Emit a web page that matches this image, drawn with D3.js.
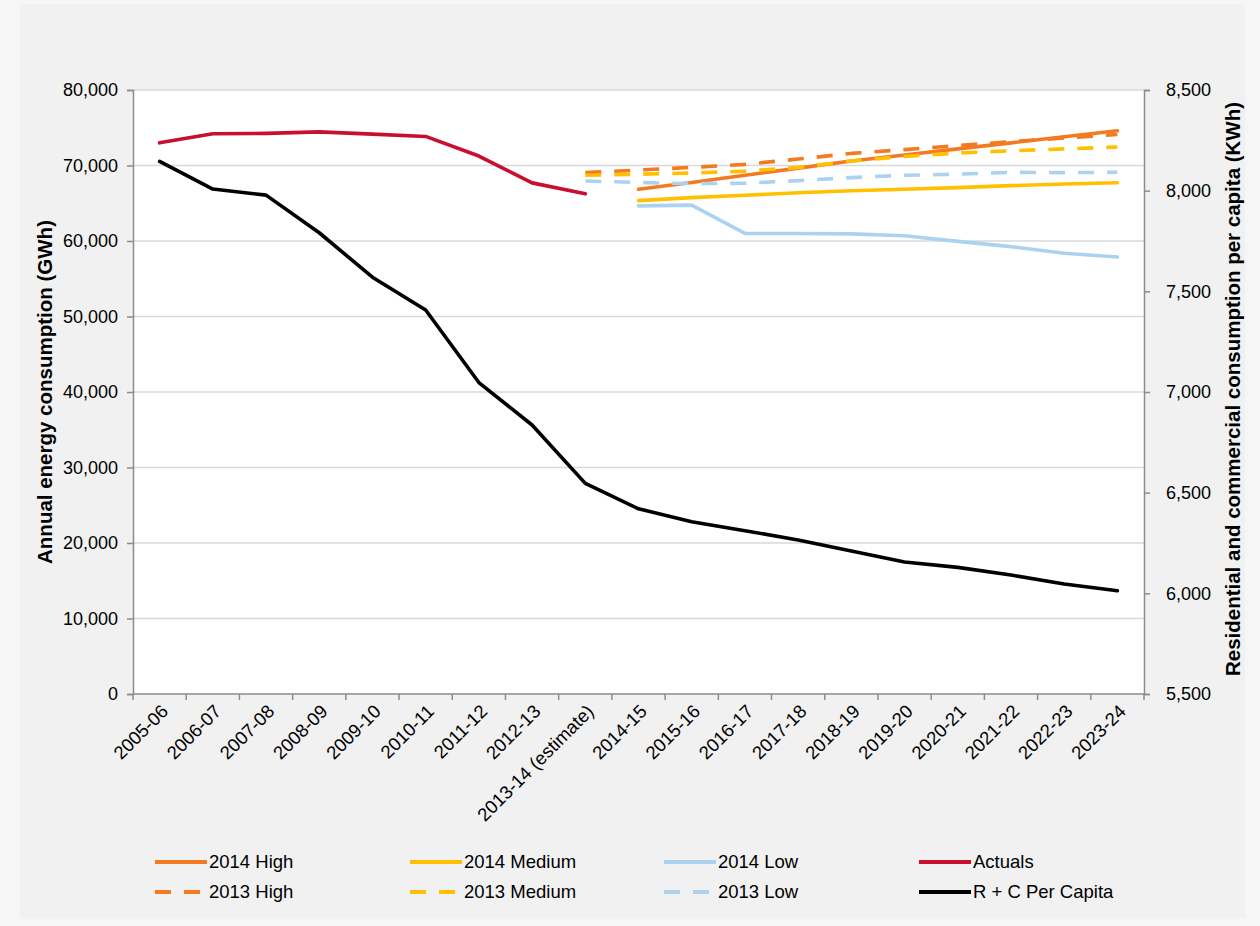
<!DOCTYPE html>
<html>
<head>
<meta charset="utf-8">
<script src="https://cdn.jsdelivr.net/npm/d3@7"></script>
<style>
  html, body { margin: 0; padding: 0; background: #f7f6f6; }
  svg { display: block; font-family: "Liberation Sans", Arial, sans-serif; }
</style>
</head>
<body>
<svg id="chart" width="1260" height="926"></svg>
<script>
// Financial years on the category axis
const categories = [
  "2005-06", "2006-07", "2007-08", "2008-09", "2009-10", "2010-11", "2011-12",
  "2012-13", "2013-14 (estimate)", "2014-15", "2015-16", "2016-17", "2017-18",
  "2018-19", "2019-20", "2020-21", "2021-22", "2022-23", "2023-24"
];

// Annual energy consumption, GWh (left axis)
const actuals = [73000, 74200, 74250, 74450, 74150, 73850, 71250, 67700, 66250];        // 2005-06 .. 2013-14
const high2014 = [66850, 67750, 68700, 69650, 70600, 71400, 72200, 73000, 73800, 74600]; // 2014-15 .. 2023-24
const medium2014 = [65350, 65750, 66050, 66400, 66650, 66850, 67070, 67330, 67550, 67720];
const low2014 = [64650, 64750, 61000, 61000, 60950, 60700, 59950, 59250, 58380, 57880];
const high2013 = [69050, 69400, 69750, 70150, 70850, 71600, 72100, 72650, 73150, 73650, 74100]; // 2013-14 .. 2023-24
const medium2013 = [68700, 68850, 69000, 69250, 69750, 70600, 71200, 71650, 71950, 72200, 72450];
const low2013 = [67950, 67750, 67600, 67650, 68000, 68400, 68700, 68850, 69100, 69050, 69100];

// Residential + commercial consumption per capita, kWh (right axis)
const perCapita = [8145, 8008, 7978, 7791, 7570, 7407, 7047, 6836, 6546, 6420, 6356,
                   6311, 6265, 6210, 6156, 6129, 6091, 6046, 6013];

// Axis ticks
const leftTicks = [0, 10000, 20000, 30000, 40000, 50000, 60000, 70000, 80000];
const rightTicks = [5500, 6000, 6500, 7000, 7500, 8000, 8500];

const legendLabels = ["2014 High", "2014 Medium", "2014 Low", "Actuals",
                      "2013 High", "2013 Medium", "2013 Low", "R + C Per Capita"];

const ORANGE = "#f47a22", YELLOW = "#ffc000", LBLUE = "#abd3f0", RED = "#c8102e", BLACK = "#000000";

const svg = d3.select("#chart");
const plot = { left: 133, right: 1144, top: 90, bottom: 694 };
const FS = 18;

// chart area background
svg.append("rect").attr("x", 20).attr("y", 4).attr("width", 1225).attr("height", 914)
  .attr("fill", "#f1f1f1");

const x = d3.scaleBand().domain(categories).range([plot.left, plot.right]).padding(0);
const cx = c => x(c) + x.bandwidth() / 2;
const yL = d3.scaleLinear().domain([0, 80000]).range([plot.bottom, plot.top]);
const yR = d3.scaleLinear().domain([5500, 8500]).range([plot.bottom, plot.top]);

// plot area
svg.append("rect").attr("x", plot.left).attr("y", plot.top)
  .attr("width", plot.right - plot.left).attr("height", plot.bottom - plot.top)
  .attr("fill", "#ffffff");

// gridlines
svg.append("g").selectAll("line").data(leftTicks.filter(d => d > 0)).join("line")
  .attr("x1", plot.left).attr("x2", plot.right)
  .attr("y1", d => yL(d)).attr("y2", d => yL(d))
  .attr("stroke", "#d9d9d9").attr("stroke-width", 1.5);

const fmt = d3.format(",");
const AXIS = "#8c8c8c";

// left axis
const gL = svg.append("g").attr("transform", `translate(${plot.left},0)`)
  .call(d3.axisLeft(yL).tickValues(leftTicks).tickFormat(fmt).tickSize(6).tickPadding(9));
// right axis
const gR = svg.append("g").attr("transform", `translate(${plot.right},0)`)
  .call(d3.axisRight(yR).tickValues(rightTicks).tickFormat(fmt).tickSize(6).tickPadding(16));
[gL, gR].forEach(g => {
  g.select(".domain").attr("stroke", AXIS).attr("stroke-width", 1.5);
  g.selectAll(".tick line").attr("stroke", AXIS).attr("stroke-width", 1.5);
  g.selectAll(".tick text").attr("font-size", FS).attr("fill", "#000")
    .attr("font-family", "'Liberation Sans', Arial, sans-serif");
});

// bottom axis: boundary ticks between categories
const gB = svg.append("g").attr("transform", `translate(0,${plot.bottom})`);
gB.append("line").attr("x1", plot.left).attr("x2", plot.right)
  .attr("stroke", AXIS).attr("stroke-width", 1.5);
const bounds = categories.map(c => x(c)).concat([plot.right]);
gB.selectAll("line.tk").data(bounds).join("line").attr("class", "tk")
  .attr("x1", d => d).attr("x2", d => d).attr("y1", 0).attr("y2", 6)
  .attr("stroke", AXIS).attr("stroke-width", 1.5);
gB.selectAll("text").data(categories).join("text")
  .attr("transform", d => `translate(${cx(d) + 5},${14}) rotate(-45)`)
  .attr("text-anchor", "end").attr("dy", "0.35em")
  .attr("font-size", 18.5).attr("fill", "#000")
  .text(d => d);

// axis titles
svg.append("text")
  .attr("transform", `translate(52,${(plot.top + plot.bottom) / 2}) rotate(-90)`)
  .attr("text-anchor", "middle").attr("font-size", 20.5).attr("font-weight", "bold")
  .text("Annual energy consumption (GWh)");
svg.append("text")
  .attr("transform", `translate(1240,${(plot.top + plot.bottom) / 2 - 3}) rotate(-90)`)
  .attr("text-anchor", "middle").attr("font-size", 20.5).attr("font-weight", "bold")
  .text("Residential and commercial consumption per capita (KWh)");

// series
const DASH = "16,13";
const series = [
  { values: high2014, start: 9, color: ORANGE, dash: null, axis: yL },
  { values: medium2014, start: 9, color: YELLOW, dash: null, axis: yL },
  { values: low2014, start: 9, color: LBLUE, dash: null, axis: yL },
  { values: actuals, start: 0, color: RED, dash: null, axis: yL },
  { values: high2013, start: 8, color: ORANGE, dash: DASH, axis: yL },
  { values: medium2013, start: 8, color: YELLOW, dash: DASH, axis: yL },
  { values: low2013, start: 8, color: LBLUE, dash: DASH, axis: yL },
  { values: perCapita, start: 0, color: BLACK, dash: null, axis: yR }
];

const gS = svg.append("g");
series.forEach(s => {
  const line = d3.line()
    .x((d, i) => cx(categories[s.start + i]))
    .y(d => s.axis(d));
  gS.append("path").datum(s.values)
    .attr("d", line)
    .attr("fill", "none")
    .attr("stroke", s.color)
    .attr("stroke-width", 3.6)
    .attr("stroke-linejoin", "round")
    .attr("stroke-linecap", s.dash ? "butt" : "round")
    .attr("stroke-dasharray", s.dash);
});

// legend
const legCols = [155, 410, 664, 919];
const legRows = [862, 892];
const gLeg = svg.append("g");
series.forEach((s, i) => {
  const lx = legCols[i % 4], ly = legRows[Math.floor(i / 4)];
  gLeg.append("line").attr("x1", lx).attr("x2", lx + 52).attr("y1", ly).attr("y2", ly)
    .attr("stroke", s.color).attr("stroke-width", 4)
    .attr("stroke-dasharray", s.dash);
  gLeg.append("text").attr("x", lx + 54).attr("y", ly).attr("dy", "0.35em")
    .attr("font-size", 18.5).attr("fill", "#000").text(legendLabels[i]);
});
</script>
</body>
</html>
